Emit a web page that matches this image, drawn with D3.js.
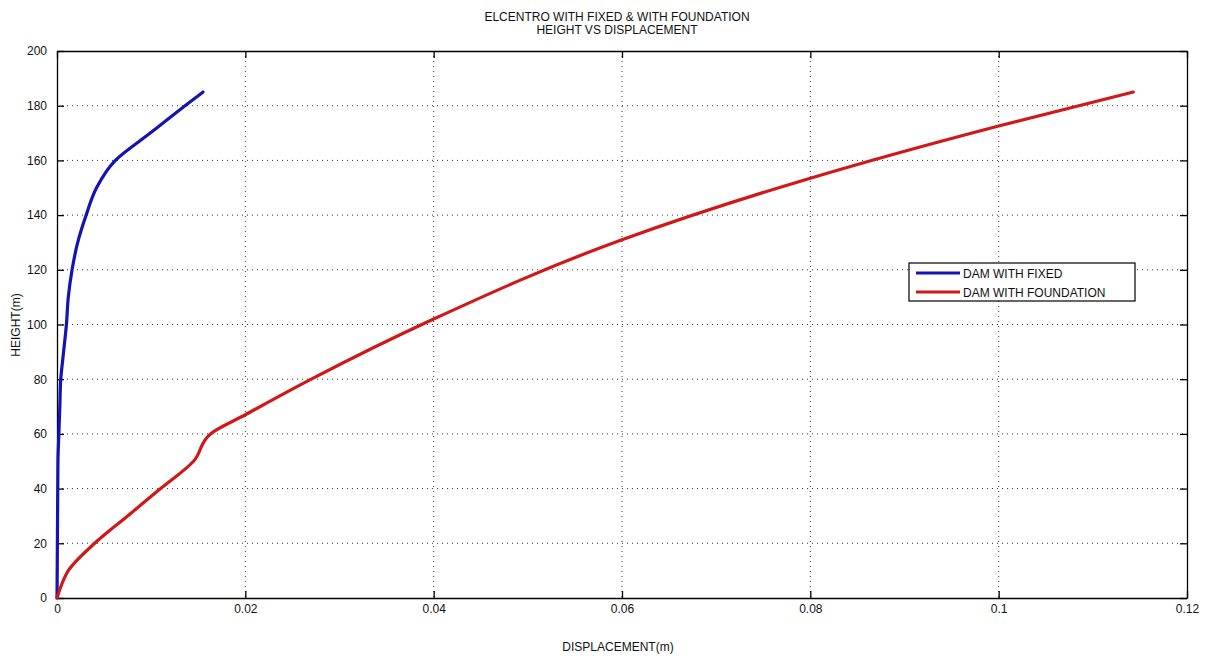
<!DOCTYPE html>
<html><head><meta charset="utf-8">
<script src="https://cdn.jsdelivr.net/npm/d3@7"></script>
<style>body{margin:0;background:#fff}svg{display:block}text{font-family:"Liberation Sans",Arial,sans-serif}</style>
</head><body><svg id="c" width="1206" height="659"></svg>
<script>
const titleLines = ["ELCENTRO WITH FIXED & WITH FOUNDATION", "HEIGHT VS DISPLACEMENT"];
const xLabel = "DISPLACEMENT(m)";
const yLabel = "HEIGHT(m)";
const seriesNames = ["DAM WITH FIXED", "DAM WITH FOUNDATION"];
const xTicks = [0, 0.02, 0.04, 0.06, 0.08, 0.1, 0.12];
const yTicks = [0, 20, 40, 60, 80, 100, 120, 140, 160, 180, 200];
const fixedHeight = [0, 50, 60, 70, 80, 90, 100, 110, 120, 130, 140, 150, 160, 170, 180, 185];
const fixedDisp = [0, 0.0001, 0.0002, 0.0003, 0.0004, 0.0007, 0.001, 0.0012, 0.0016, 0.0022, 0.0031, 0.0042, 0.0062, 0.0099, 0.0136, 0.0155];
const foundHeight = [0, 5, 10, 20, 30, 40, 50, 60, 67, 80, 102, 131, 153.5, 172.6, 185];
const foundDisp = [0, 0.0005, 0.0012, 0.004, 0.0075, 0.011, 0.0145, 0.0163, 0.02, 0.027, 0.04, 0.06, 0.08, 0.1, 0.1143];
const colors = ["#1414b4", "#d01818"];

const svg = d3.select("#c");
const L = 57, R = 1187, T = 51, B = 598;
const x = d3.scaleLinear().domain([0, 0.12]).range([L, R]);
const y = d3.scaleLinear().domain([0, 200]).range([B, T]);

// grid
const g = svg.append("g");
g.selectAll(".gx").data(xTicks.slice(1, -1)).join("line")
  .attr("x1", d => x(d)).attr("x2", d => x(d)).attr("y1", T).attr("y2", B)
  .attr("stroke", "#333").attr("stroke-width", 1).attr("stroke-dasharray", "1,4");
g.selectAll(".gy").data(yTicks.slice(1, -1)).join("line")
  .attr("y1", d => y(d)).attr("y2", d => y(d)).attr("x1", L).attr("x2", R)
  .attr("stroke", "#333").attr("stroke-width", 1).attr("stroke-dasharray", "1,4");

// axes
const fmt = d => d === 0 ? "0" : String(d);
const ax = svg.append("g").attr("transform", `translate(0,${B})`)
  .call(d3.axisBottom(x).tickValues(xTicks).tickFormat(fmt).tickSizeInner(-7).tickSizeOuter(0).tickPadding(10));
const axT = svg.append("g").attr("transform", `translate(0,${T})`)
  .call(d3.axisTop(x).tickValues(xTicks).tickFormat("").tickSizeInner(-7).tickSizeOuter(0));
const ay = svg.append("g").attr("transform", `translate(${L},0)`)
  .call(d3.axisLeft(y).tickValues(yTicks).tickFormat(fmt).tickSizeInner(-7).tickSizeOuter(0).tickPadding(10));
const ayR = svg.append("g").attr("transform", `translate(${R},0)`)
  .call(d3.axisRight(y).tickValues(yTicks).tickFormat("").tickSizeInner(-7).tickSizeOuter(0));
[ax, axT, ay, ayR].forEach(a => {
  a.select(".domain").attr("stroke", "#000").attr("stroke-width", 1.3);
  a.selectAll(".tick line").attr("stroke", "#000").attr("stroke-width", 1.3);
  a.selectAll("text").attr("font-size", 12).attr("fill", "#111");
});
ax.selectAll("text").attr("dy", "0.4em");

// lines
const series = [
  fixedHeight.map((h, i) => [fixedDisp[i], h]),
  foundHeight.map((h, i) => [foundDisp[i], h])
];
const line = d3.line().x(d => x(d[0])).y(d => y(d[1])).curve(d3.curveMonotoneY);
series.forEach((s, i) => {
  svg.append("path").datum(s).attr("d", line).attr("fill", "none")
    .attr("stroke", colors[i]).attr("stroke-width", 3.2).attr("stroke-linejoin", "round").attr("stroke-linecap", "round");
});

// title & labels
svg.append("g").selectAll("text").data(titleLines).join("text")
  .attr("x", 617).attr("y", (d, i) => 21 + i * 13).attr("text-anchor", "middle")
  .attr("font-size", 12).attr("fill", "#111").text(d => d);
svg.append("text").attr("x", 618).attr("y", 651).attr("text-anchor", "middle")
  .attr("font-size", 12).attr("fill", "#111").text(xLabel);
svg.append("text").attr("transform", "translate(20,325) rotate(-90)").attr("text-anchor", "middle")
  .attr("font-size", 12).attr("fill", "#111").text(yLabel);

// legend
const lg = svg.append("g");
lg.append("rect").attr("x", 909).attr("y", 263).attr("width", 226).attr("height", 38)
  .attr("fill", "#fff").attr("stroke", "#000").attr("stroke-width", 1.2);
seriesNames.forEach((n, i) => {
  const yy = 273 + i * 19;
  lg.append("line").attr("x1", 916).attr("x2", 960).attr("y1", yy).attr("y2", yy)
    .attr("stroke", colors[i]).attr("stroke-width", 3.2);
  lg.append("text").attr("x", 963).attr("y", yy + 4.5).attr("font-size", 12).attr("fill", "#111").text(n);
});
</script></body></html>
